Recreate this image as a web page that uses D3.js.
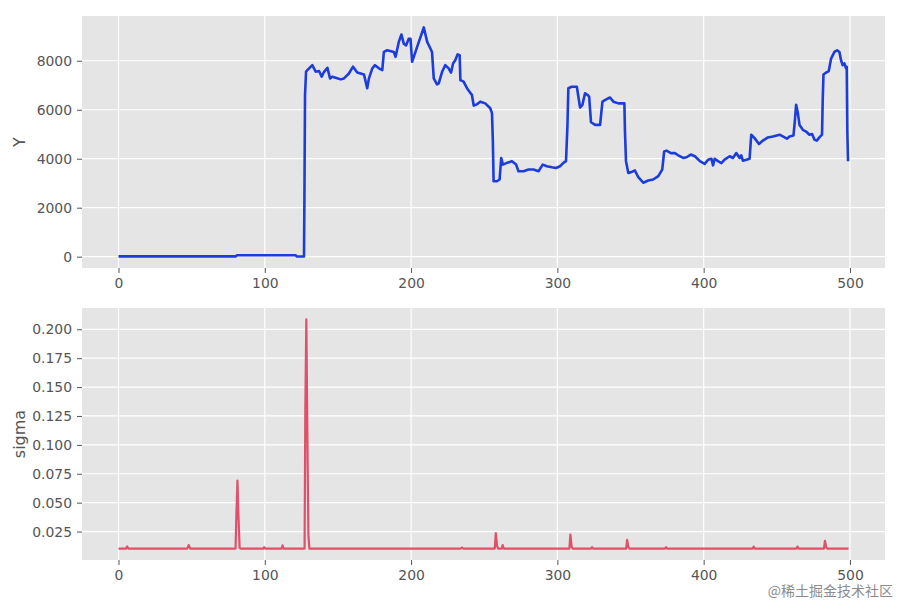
<!DOCTYPE html>
<html>
<head>
<meta charset="utf-8">
<script src="https://d3js.org/d3.v7.min.js"></script>
<style>
	body { margin: 0; background: white; }
	svg { display: block; font-family: "DejaVu Sans", sans-serif; }
</style>
</head>
<body>
<svg width="900" height="600"></svg>
<script>

// top panel: Y
var yX = [0,80,81,121,122,126.8,127.1,127.5,128.2,129.1,132.5,134.8,137.1,138.9,140.5,142.8,144.6,146.2,148.4,151.9,154.1,157.5,160.3,163.2,165.5,167.8,170,171.2,173.5,175.3,178,180.3,181.4,183.7,188.2,189.4,191.6,193.4,195,196.6,198.4,199.6,200.7,203,205.3,208.7,211,213.2,214.3,215.5,217.7,218.9,221.2,223.4,225.7,227.3,228.7,230.2,231.8,233.2,233.7,235.9,238.2,241.6,242.8,245,247.3,250.7,254.1,255.3,255.9,256.4,258.7,260.5,261.6,262.8,265.5,268.9,271.8,273.4,276.9,280.3,283.7,287.1,290,292.8,296.2,299.1,301.8,304.1,305.9,306.9,307.5,309.8,313.3,315.5,317.1,318.9,320.8,321.7,323,325.8,329.2,330.8,333.7,336,338.3,341.7,345.8,346.2,346.9,348.5,350.8,353,355.3,358.7,362.1,365.5,369,371.7,373,374.6,377.6,380.3,382.6,386,388.3,391.2,394,397.4,400.7,403,405.3,406.4,407.5,409.8,412.1,414.3,417.8,420,422.3,424.6,425.7,426.8,429.1,431.4,432.5,434.8,437.8,440.5,443.9,447.3,451.9,454.1,456.9,458.7,461.4,462.3,463.2,464.4,465.5,467.8,470,472.3,474.1,475.7,477.3,479.1,480.9,481.4,481.9,483.7,485.5,487.1,489.4,491.2,492.8,493.9,495,496.2,497.3,497.8,498.2,498.7];
var yVals = [10,10,60,55,5,5,2500,6600,7550,7620,7820,7550,7580,7350,7550,7710,7280,7350,7310,7240,7280,7480,7760,7520,7480,7440,6880,7280,7690,7820,7690,7620,8360,8430,8360,8160,8770,9070,8700,8630,8900,8900,7960,8360,8770,9360,8770,8500,8360,7280,7040,7080,7550,7820,7690,7520,7890,8020,8260,8230,7210,7150,6880,6600,6170,6220,6330,6260,6060,5860,4710,3080,3080,3150,4030,3760,3830,3900,3760,3490,3490,3560,3560,3490,3760,3690,3650,3620,3690,3830,3900,5380,6880,6940,6940,6090,6200,6670,6600,6540,5490,5380,5380,6330,6430,6500,6330,6260,6260,5110,3900,3420,3460,3520,3250,3020,3110,3150,3290,3560,4300,4330,4230,4230,4140,4030,4060,4170,4100,3900,3790,3960,4000,3730,4000,3900,3820,3960,4100,4030,4230,4030,4140,3920,3960,4000,4980,4840,4600,4740,4870,4910,4980,4910,4820,4910,4950,5520,6200,5860,5380,5180,5110,4980,5010,4780,4740,4870,4980,6470,7440,7520,7580,8090,8360,8430,8360,8020,7820,7890,7690,7750,5110,3900];

// bottom panel: sigma
var sX = [0,5,5.9,6.8,47,48,49,80,80.6,81.3,82,82.8,83.5,99,99.6,100.3,111.5,112.1,112.8,127.2,127.7,128.4,129.2,129.8,130.5,234,234.8,235.6,257.2,257.9,258.8,259.5,262,262.6,263.3,308.2,308.9,309.8,310.5,323,323.7,324.4,347,347.7,348.6,349.3,373.6,374.3,375,433.5,434.2,434.9,463.4,464.1,464.8,482.2,482.9,483.8,484.5,499];
var sVals = [0.0103,0.0103,0.0121,0.0103,0.0103,0.0133,0.0103,0.0103,0.040,0.069,0.038,0.0108,0.0103,0.0103,0.0115,0.0103,0.0103,0.013,0.0103,0.0103,0.130,0.2085,0.095,0.022,0.0103,0.0103,0.0112,0.0103,0.0103,0.0237,0.0125,0.0103,0.0103,0.0133,0.0103,0.0103,0.0223,0.0115,0.0103,0.0103,0.0115,0.0103,0.0103,0.0178,0.0115,0.0103,0.0103,0.0115,0.0103,0.0103,0.012,0.0103,0.0103,0.012,0.0103,0.0103,0.017,0.0112,0.0103,0.0103];

var xTicks = [0,100,200,300,400,500];
var yTicks = [0,2000,4000,6000,8000];
var sTicks = [0.025,0.050,0.075,0.100,0.125,0.150,0.175,0.200];

var svg = d3.select("svg");
var left = 82, right = 885;

// matplotlib style 5% margins
function pad(ext) {
	var m = (ext[1] - ext[0]) * 0.05;
	return [ext[0] - m, ext[1] + m];
}

function panel(top, bottom, xs, vals, ticks, fmt, label, color, lw) {
	var x = d3.scaleLinear().domain(pad([0, 499])).range([left, right]);
	var y = d3.scaleLinear().domain(pad(d3.extent(vals))).range([bottom, top]);
	var g = svg.append("g");

	g.append("rect")
		.attr("x", left).attr("y", top)
		.attr("width", right - left).attr("height", bottom - top)
		.attr("fill", "#e5e5e5");

	// grid
	g.selectAll(".gx").data(xTicks).enter().append("line")
		.attr("x1", function(d) {return x(d);}).attr("x2", function(d) {return x(d);})
		.attr("y1", top).attr("y2", bottom)
		.attr("stroke", "white").attr("stroke-width", 1.2);
	g.selectAll(".gy").data(ticks).enter().append("line")
		.attr("y1", function(d) {return y(d);}).attr("y2", function(d) {return y(d);})
		.attr("x1", left).attr("x2", right)
		.attr("stroke", "white").attr("stroke-width", 1.2);

	// axes
	var xa = g.append("g").attr("transform", "translate(0," + bottom + ")")
		.call(d3.axisBottom(x).tickValues(xTicks).tickSize(5).tickPadding(5).tickFormat(d3.format("d")));
	var ya = g.append("g").attr("transform", "translate(" + left + ",0)")
		.call(d3.axisLeft(y).tickValues(ticks).tickSize(5).tickPadding(5).tickFormat(fmt));
	[xa, ya].forEach(function(a) {
		a.select(".domain").remove();
		a.selectAll("line").attr("stroke", "#555");
		a.selectAll("text").attr("fill", "#555").style("font-size", "13.9px")
			.style("font-family", "DejaVu Sans");
	});

	g.append("text")
		.attr("transform", "translate(" + 19 + "," + ((top + bottom) / 2) + ") rotate(-90)")
		.attr("text-anchor", "middle").attr("dy", "0.35em")
		.attr("fill", "#555").style("font-size", "16px")
		.text(label);

	var line = d3.line()
		.x(function(d, i) {return x(xs[i]);})
		.y(function(d) {return y(d);});
	g.append("path").datum(vals)
		.attr("d", line)
		.attr("fill", "none").attr("stroke", color)
		.attr("stroke-width", lw).attr("stroke-linejoin", "round");
}

panel(16, 268, yX, yVals, yTicks, d3.format("d"), "Y", "#1c3cdc", 2.6);
panel(308, 560, sX, sVals, sTicks, d3.format(".3f"), "sigma", "#e0506a", 2.2);

// watermark
svg.append("text")
	.attr("x", 893).attr("y", 596)
	.attr("text-anchor", "end")
	.attr("fill", "#8c8c8c")
	.style("font-family", "Noto Sans CJK SC")
	.style("font-size", "14px")
	.text("@稀土掘金技术社区");

</script>
</body>
</html>
